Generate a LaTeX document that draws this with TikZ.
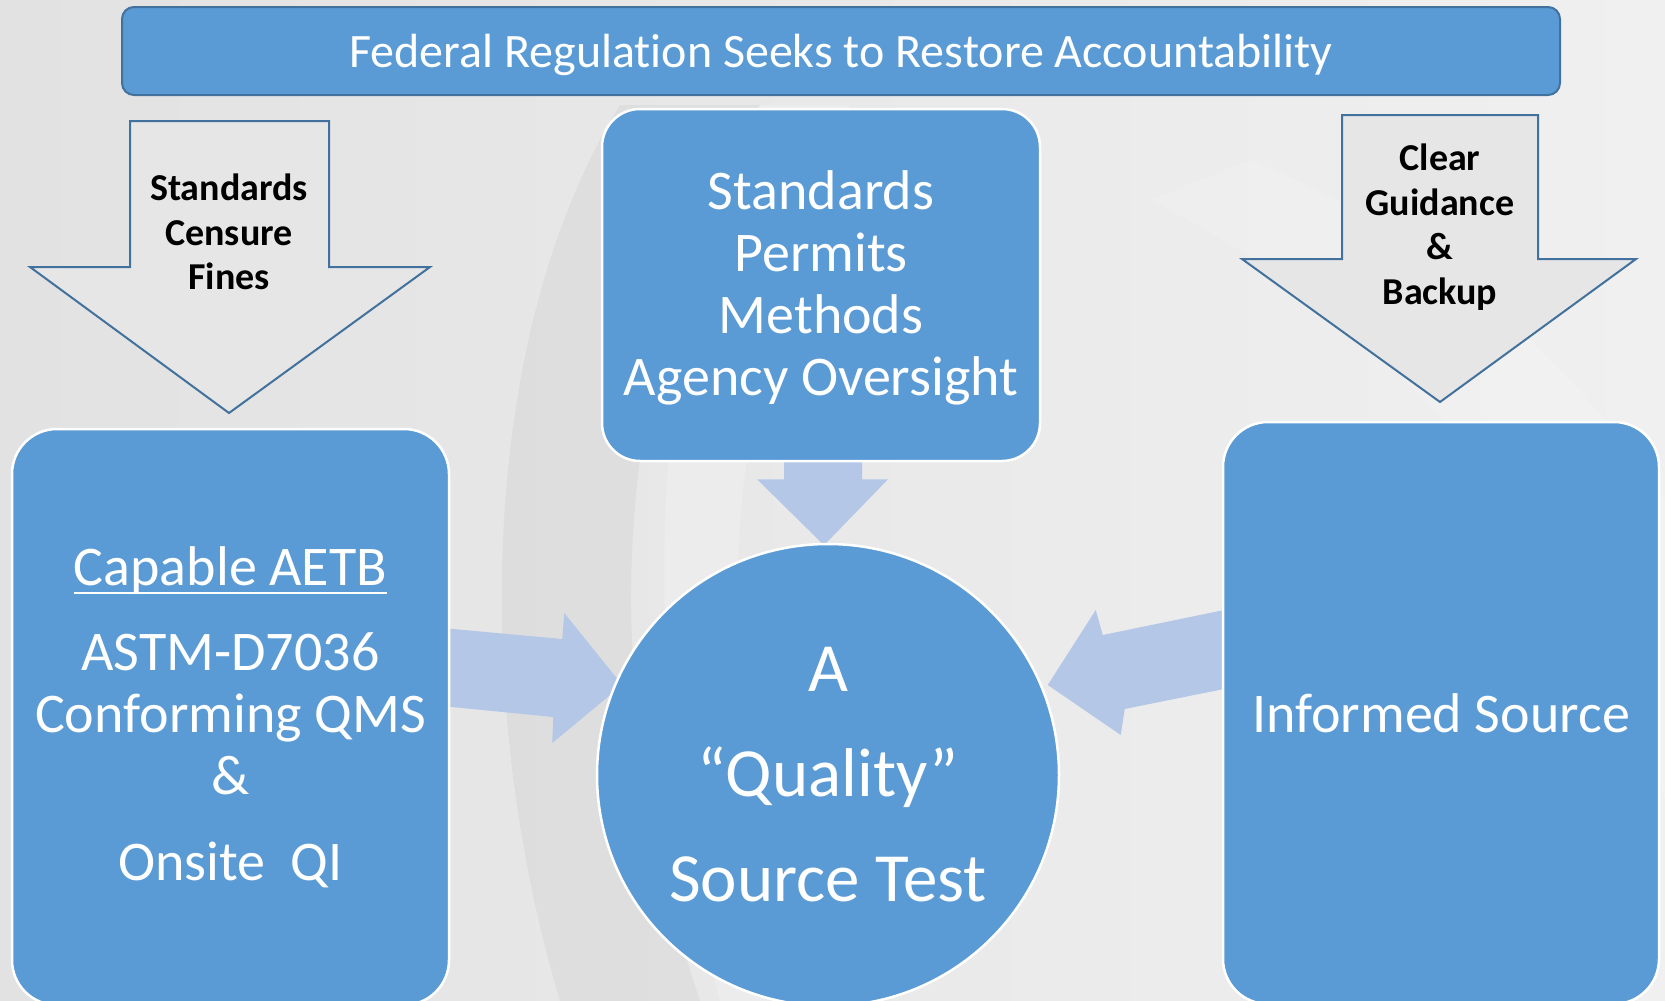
\documentclass[tikz,border=0pt]{standalone}
\usepackage{fontspec}
\setmainfont{Carlito}[Ligatures=NoCommon]
\usetikzlibrary{calc}
\pgfdeclarelayer{back}
\pgfdeclarelayer{mid}
\pgfsetlayers{back,mid,main}
\definecolor{boxblue}{HTML}{5B9BD5}
\definecolor{edgeblue}{HTML}{41719C}
\definecolor{softblue}{HTML}{B4C7E7}
\definecolor{arrowgray}{HTML}{E6E6E6}
\definecolor{bgL}{HTML}{E2E2E2}
\definecolor{bgR}{HTML}{F0F0F0}
\newsavebox{\ulbox}
\newcommand{\myul}[1]{\sbox{\ulbox}{#1}\rlap{\rule[-9pt]{\wd\ulbox}{2.6pt}}\usebox{\ulbox}}
\begin{document}
\begin{tikzpicture}[x=1pt,y=-1pt,
  bluebox/.style={rectangle, fill=boxblue, draw=white, line width=2.5pt, text=white, align=center, inner sep=0pt},
  titlebox/.style={rectangle, fill=boxblue, draw=edgeblue, line width=2pt, rounded corners=12pt, text=white, inner sep=0pt},
  grayarrow/.style={fill=arrowgray, draw=edgeblue, line width=2pt, line join=miter},
  arrowtext/.style={align=center, text=black, inner sep=0pt, font=\fontsize{38}{44.5}\selectfont\bfseries},
  softarrow/.style={fill=softblue}
]
\useasboundingbox (0,0) rectangle (1665,1001);

% background
\begin{pgfonlayer}{back}
  \fill[left color=bgL, right color=bgR] (0,0) rectangle (1665,1001);
  \fill[black, opacity=0.035] (620,105) .. controls (480,330) and (470,700) .. (560,1001)
     -- (700,1001) .. controls (600,700) and (600,380) .. (760,105) -- cycle;
  \fill[white, opacity=0.2] (760,105) .. controls (640,330) and (640,700) .. (720,1001)
     -- (800,1001) .. controls (700,700) and (720,380) .. (850,105) -- cycle;
  \fill[white, opacity=0.15] (1150,200) .. controls (1450,350) and (1600,600) .. (1665,800)
     -- (1665,500) .. controls (1550,330) and (1400,220) .. (1250,160) -- cycle;
\end{pgfonlayer}

% title
\node[titlebox, minimum width=1438pt, minimum height=88pt,
      font=\fontsize{48}{57}\selectfont] (title) at (841,51)
  {\raisebox{-3.5pt}[\height][\depth]{Federal Regulation Seeks to Restore Accountability}};

% grey down arrows
\path[grayarrow] (130,121) -- (329,121) -- (329,267) -- (430,267) -- (229,413)
   -- (30,267) -- (130,267) -- cycle;
\node[arrowtext] (latext) at (229,232) {Standards\\Censure\\Fines};

\path[grayarrow] (1342,115) -- (1538,115) -- (1538,259) -- (1636,259) -- (1440,402)
   -- (1242,259) -- (1342,259) -- cycle;
\node[arrowtext] (ratext) at (1440,227) {Clear\\Guidance\\\&\\Backup};

% blue boxes
\node[bluebox, rounded corners=38pt, minimum width=438pt, minimum height=352pt,
      font=\fontsize{56}{62}\selectfont] (cbox) at (821,285)
  {\rule{0pt}{44pt}Standards\\Permits\\Methods\\Agency Oversight};

\node[bluebox, rounded corners=45pt, minimum width=437pt, minimum height=576pt,
      font=\fontsize{56}{62}\selectfont] (lbox) at (230.5,717)
  {\myul{Capable AETB}\\[23pt]ASTM-D7036\\Conforming QMS\\\&\\[24pt]Onsite~~QI};

\node[bluebox, rounded corners=45pt, minimum width=436pt, minimum height=582pt,
      font=\fontsize{56}{62}\selectfont] (rbox) at (1441,713)
  {Informed Source};

\node[bluebox, circle, minimum size=462pt,
      font=\fontsize{69}{105}\selectfont] (circ) at (828,775)
  {A\\“Quality”\\Source Test};

% light blue block arrows (behind the boxes)
\begin{pgfonlayer}{mid}
  \begin{scope}[shift={(cbox.south)}]
    \path[softarrow] (-37,-21) -- (-37,17) -- (-64,17) -- (3,83) -- (67,17)
       -- (41,17) -- (41,-21) -- cycle;
  \end{scope}
  \begin{scope}[shift={(lbox.east)}]
    \path[softarrow] (-19,-90) -- (112,-78) -- (114,-104) -- (172,-32)
       -- (102,26) -- (103,0) -- (-19,-12) -- cycle;
  \end{scope}
  \begin{scope}[shift={(rbox.west)}]
    \path[softarrow] (17,-106) -- (-119,-78) -- (-126,-103) -- (-174,-28)
       -- (-101,22) -- (-97,-4) -- (17,-27) -- cycle;
  \end{scope}
\end{pgfonlayer}
\end{tikzpicture}
\end{document}
